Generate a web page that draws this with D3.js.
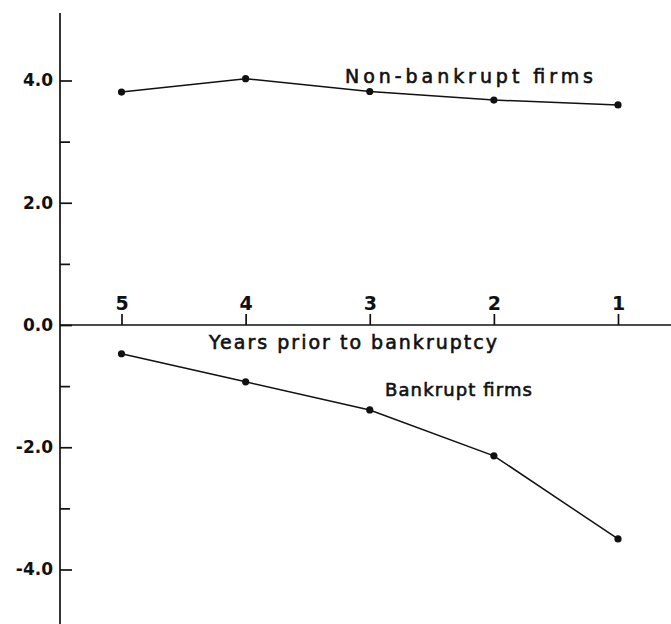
<!DOCTYPE html>
<html>
<head>
<meta charset="utf-8">
<script src="https://cdn.jsdelivr.net/npm/d3@7"></script>
<style>
  html, body { margin: 0; padding: 0; background: #fff; }
  svg { display: block; }
  text { font-family: "DejaVu Sans", sans-serif; fill: #111; }
</style>
</head>
<body>
<svg id="chart" width="671" height="624"></svg>
<script>
// ---- data ----
const years = [5, 4, 3, 2, 1];
const nonBankrupt = [3.81, 4.03, 3.82, 3.68, 3.60];
const bankrupt = [-0.47, -0.93, -1.39, -2.14, -3.50];
const yMajorTicks = [-4, -2, 0, 2, 4];
const yMinorTicks = [-3, -1, 1, 3];
const xLabel = "Years prior to bankruptcy";
const seriesLabels = ["Non-bankrupt firms", "Bankrupt firms"];

// ---- layout ----
const W = 671, H = 624;
const axisX = 60;
const svg = d3.select("#chart");
const x = d3.scaleLinear().domain([5, 1]).range([121.5, 618]);
const y = d3.scaleLinear().domain([-4, 4]).range([569.5, 80.5]);
const ink = "#111";

// y axis (ticks point inward/right)
const fmt = v => d3.format(".1f")(v).replace("\u2212", "-");
const yAxis = svg.append("g").attr("transform", `translate(${axisX},0)`)
  .call(d3.axisLeft(y).tickValues(yMajorTicks).tickSizeInner(-12).tickSizeOuter(0)
        .tickPadding(7).tickFormat(fmt));
yAxis.select(".domain").remove();
yAxis.selectAll(".tick line").attr("stroke", ink).attr("stroke-width", 1.7);
yAxis.selectAll(".tick text")
  .style("font-family", "'DejaVu Sans', sans-serif")
  .style("font-size", "17px").style("font-weight", "bold").attr("fill", ink);

const yMinor = svg.append("g").attr("transform", `translate(${axisX},0)`)
  .call(d3.axisLeft(y).tickValues(yMinorTicks).tickSizeInner(-10).tickSizeOuter(0).tickFormat(""));
yMinor.select(".domain").remove();
yMinor.selectAll(".tick line").attr("stroke", ink).attr("stroke-width", 1.7);

svg.append("line").attr("x1", axisX).attr("x2", axisX).attr("y1", 13).attr("y2", H)
  .attr("stroke", ink).attr("stroke-width", 1.7);

// x axis at zero, ticks upward, labels above
const xAxis = svg.append("g").attr("transform", `translate(0,${y(0)})`)
  .call(d3.axisTop(x).tickValues(years).tickSizeInner(11).tickSizeOuter(0)
        .tickPadding(4).tickFormat(d3.format("d")));
xAxis.select(".domain").remove();
xAxis.selectAll(".tick line").attr("stroke", ink).attr("stroke-width", 1.7);
xAxis.selectAll(".tick text")
  .style("font-family", "'DejaVu Sans', sans-serif")
  .style("font-size", "19px").style("font-weight", "bold").attr("fill", ink);

svg.append("line").attr("x1", axisX).attr("x2", W).attr("y1", y(0)).attr("y2", y(0))
  .attr("stroke", ink).attr("stroke-width", 1.7);

svg.append("text").attr("x", 209).attr("y", y(0) + 24)
  .attr("textLength", 288).attr("lengthAdjust", "spacing")
  .style("font-size", "19px").style("stroke", ink).style("stroke-width", 0.6)
  .text(xLabel);

// series
const line = d3.line().x((d, i) => x(years[i])).y(d => y(d));
[nonBankrupt, bankrupt].forEach(series => {
  svg.append("path").datum(series).attr("d", line)
    .attr("fill", "none").attr("stroke", ink).attr("stroke-width", 1.5);
  svg.selectAll(null).data(series).enter().append("circle")
    .attr("cx", (d, i) => x(years[i])).attr("cy", d => y(d)).attr("r", 3.6).attr("fill", ink);
});

// series labels
svg.append("text").attr("x", 345).attr("y", 83)
  .attr("textLength", 248).attr("lengthAdjust", "spacing")
  .style("font-size", "19px").style("stroke", ink).style("stroke-width", 0.6)
  .text(seriesLabels[0]);
svg.append("text").attr("x", 385).attr("y", 396)
  .attr("textLength", 147).attr("lengthAdjust", "spacing")
  .style("font-size", "18px").style("stroke", ink).style("stroke-width", 0.6)
  .text(seriesLabels[1]);
</script>
</body>
</html>
